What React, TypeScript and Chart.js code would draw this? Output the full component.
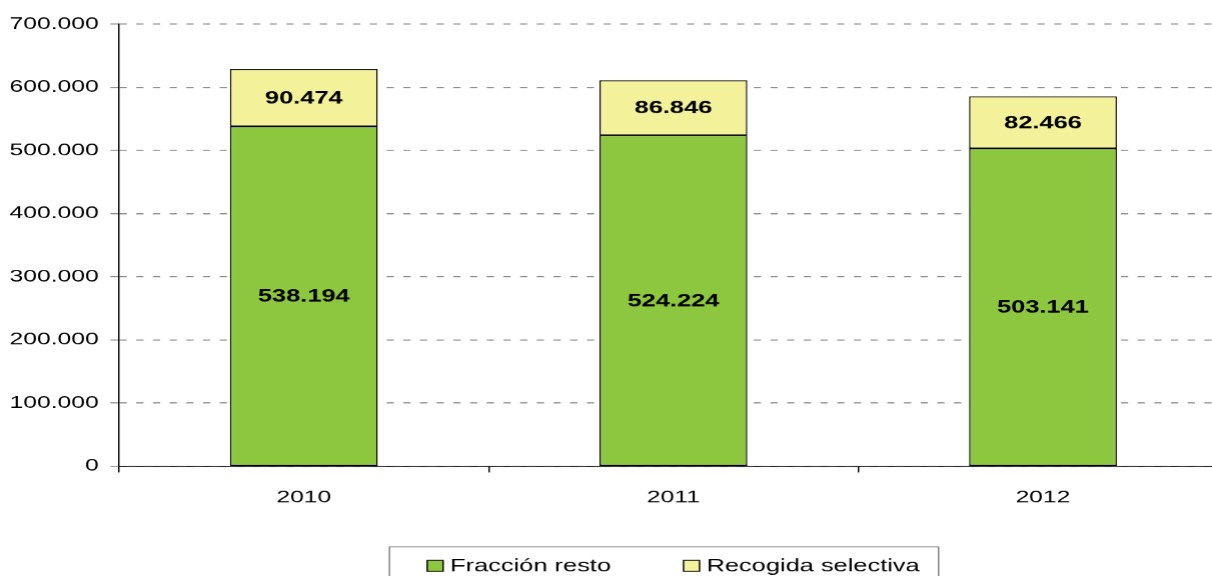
import React, { useEffect, useRef } from "react";
import { Chart, registerables } from "chart.js";

Chart.register(...registerables);

const years = ["2010", "2011", "2012"];
const fraccionResto = [538194, 524224, 503141];
const recogidaSelectiva = [90474, 86846, 82466];
const seriesNames = ["Fracción resto", "Recogida selectiva"];
const seriesColors = ["#8dc63f", "#f3f19a"];
const yMax = 700000;
const yStep = 100000;

const STRETCH = 1.45;
const LOGICAL_W = 846;
const LOGICAL_H = 590;
const FONT = "'Liberation Sans', Arial, Helvetica, sans-serif";

const fmt = (n: number) =>
  n === 0 ? "0" : String(Math.round(n)).replace(/\B(?=(\d{3})+(?!\d))/g, ".");

const valueLabels = {
  id: "valueLabels",
  afterDatasetsDraw(chart: any) {
    const ctx = chart.ctx;
    ctx.save();
    ctx.font = `bold 17.5px ${FONT}`;
    ctx.fillStyle = "#000";
    ctx.textAlign = "center";
    ctx.textBaseline = "middle";
    chart.data.datasets.forEach((ds: any, di: number) => {
      const meta = chart.getDatasetMeta(di);
      meta.data.forEach((el: any, i: number) => {
        const y = (el.y + el.base) / 2;
        ctx.fillText(fmt(ds.data[i]), el.x, y + 1);
      });
    });
    ctx.restore();
  },
};

const boxedLegend = {
  id: "boxedLegend",
  afterDraw(chart: any) {
    const ctx = chart.ctx;
    const area = chart.chartArea;
    const boxW = 11;
    const boxH = 11;
    const gap = 4.8;
    const itemGap = 50;
    ctx.save();
    ctx.font = `17.5px ${FONT}`;
    const items = chart.data.datasets.map((ds: any) => ({
      label: ds.label,
      color: ds.backgroundColor,
      w: ctx.measureText(ds.label).width,
    }));
    const total =
      items.reduce((s: number, it: any) => s + boxW + gap + it.w, 0) +
      itemGap * (items.length - 1);
    const cx = (area.left + area.right) / 2;
    const cy = area.bottom + 99.5;
    let x = cx - total / 2;
    const startX = x;
    items.forEach((it: any) => {
      ctx.fillStyle = it.color;
      ctx.fillRect(x, cy - boxH / 2, boxW, boxH);
      ctx.strokeStyle = "#000";
      ctx.lineWidth = 1;
      ctx.strokeRect(x, cy - boxH / 2, boxW, boxH);
      ctx.fillStyle = "#000";
      ctx.textAlign = "left";
      ctx.textBaseline = "middle";
      ctx.fillText(it.label, x + boxW + gap, cy + 1);
      x += boxW + gap + it.w + itemGap;
    });
    const endX = x - itemGap;
    const top = Math.round(area.bottom + 80) + 0.5;
    ctx.strokeStyle = "#808080";
    ctx.lineWidth = 1;
    ctx.strokeRect(startX - 26, top, endX - startX + 26 + 13, 45);
    ctx.restore();
  },
};

export default function App() {
  const ref = useRef<HTMLCanvasElement | null>(null);
  useEffect(() => {
    if (!ref.current) return;
    Chart.defaults.font.family = FONT;
    Chart.defaults.font.size = 17;
    Chart.defaults.color = "#000";
    const chart = new Chart(ref.current, {
      type: "bar",
      data: {
        labels: years,
        datasets: [
          {
            label: seriesNames[0],
            data: fraccionResto,
            backgroundColor: seriesColors[0],
            borderColor: "#000",
            borderWidth: 1,
            borderSkipped: false,
            barPercentage: 0.4,
            categoryPercentage: 1,
          },
          {
            label: seriesNames[1],
            data: recogidaSelectiva,
            backgroundColor: seriesColors[1],
            borderColor: "#000",
            borderWidth: 1,
            borderSkipped: false,
            barPercentage: 0.4,
            categoryPercentage: 1,
          },
        ],
      },
      options: {
        animation: false,
        responsive: false,
        devicePixelRatio: STRETCH,
        layout: { padding: { top: 24, left: 0, right: 0, bottom: 73 } },
        plugins: {
          legend: { display: false },
          tooltip: { enabled: false },
        },
        scales: {
          x: {
            stacked: true,
            afterFit: (s: any) => {
              s.height = 51;
            },
            grid: {
              display: true,
              drawOnChartArea: false,
              drawTicks: true,
              tickLength: 6,
              color: "#000",
              offset: true,
            },
            border: { display: true, color: "#000", width: 1 },
            ticks: { padding: 15, color: "#000", font: { size: 17 } },
          },
          y: {
            stacked: true,
            min: 0,
            max: yMax,
            afterFit: (s: any) => {
              s.width = 119 / STRETCH;
            },
            ticks: {
              stepSize: yStep,
              padding: 8,
              color: "#000",
              font: { size: 17 },
              callback: (v: any) => fmt(Number(v)),
            },
            grid: {
              color: "#808080",
              tickLength: 6,
              tickColor: "#808080",
            },
            border: { display: true, color: "#000", width: 1, dash: [5, 6.5] },
          },
        },
      },
      plugins: [valueLabels, boxedLegend],
    });
    return () => chart.destroy();
  }, []);

  return (
    <div
      style={{
        position: "fixed",
        left: 0,
        top: 0,
        width: 1212,
        height: 576,
        overflow: "hidden",
        background: "#fff",
      }}
    >
      <canvas
        ref={ref}
        width={LOGICAL_W}
        height={LOGICAL_H}
        style={{ width: `${LOGICAL_W * STRETCH}px`, height: `${LOGICAL_H}px` }}
      />
    </div>
  );
}
